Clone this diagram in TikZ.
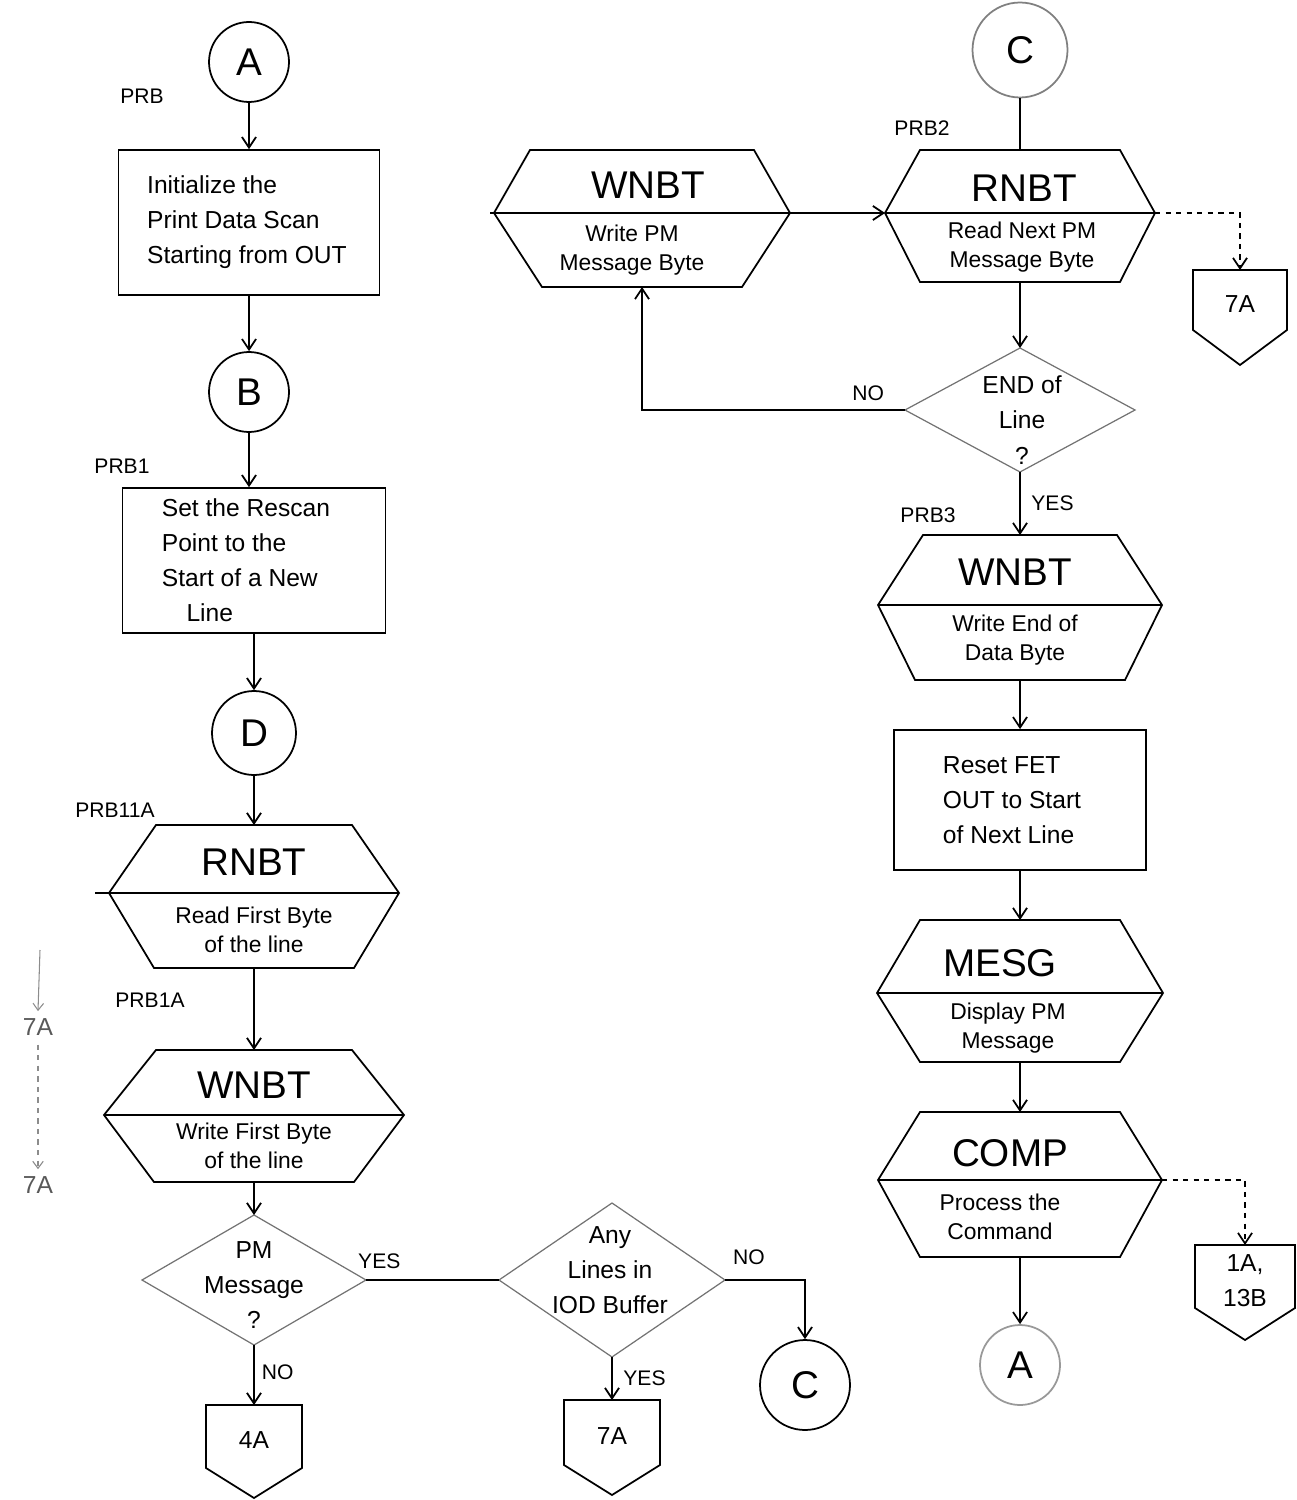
\documentclass[tikz,border=0pt]{standalone}
\usepackage{fontspec}
\setmainfont{Liberation Sans}
\usetikzlibrary{arrows.meta}
\newcommand\hexa[8]{%
 \draw[ln] ({#2-#6},#3) -- ({#2+#6},#3) -- ({#2+#7},#4) -- ({#2+#8},#5) -- ({#2-#8},#5) -- ({#2-#7},#4) -- cycle;
 \draw[ln] ({#2-#7},#4) -- ({#2+#7},#4);
 \coordinate (#1-t) at (#2,#3); \coordinate (#1-b) at (#2,#5);
 \coordinate (#1-l) at ({#2-#7},#4); \coordinate (#1-r) at ({#2+#7},#4);}
\newcommand\offpg[7]{%
 \draw[ln] ({#2-#3},#4) -- ({#2+#3},#4) -- ({#2+#3},#5) -- (#2,#6) -- ({#2-#3},#5) -- cycle;
 \coordinate (#1-t) at (#2,#4);
 \node[txt] (#1) at (#2,{(#4+#5)/2+4}) {#7};}
\newcommand\diam[5]{%
 \draw[dln] (#2,{#3-#5}) -- ({#2+#4},#3) -- (#2,{#3+#5}) -- ({#2-#4},#3) -- cycle;
 \coordinate (#1-t) at (#2,{#3-#5}); \coordinate (#1-b) at (#2,{#3+#5});
 \coordinate (#1-l) at ({#2-#4},#3); \coordinate (#1-r) at ({#2+#4},#3);}
\begin{document}
\begin{tikzpicture}[x=0.02cm,y=-0.02cm,
  ln/.style={line width=1pt},
  dln/.style={line width=0.7pt, draw=black!55},
  arr/.style={ln,-{Straight Barb[length=6pt,width=8pt]}},
  big/.style={font=\fontsize{22}{24}\selectfont},
  txt/.style={font=\fontsize{14}{20}\selectfont, align=center, inner sep=0pt},
  htxt/.style={font=\fontsize{13}{16.5}\selectfont, align=center, inner sep=0pt},
  ltxt/.style={font=\fontsize{14}{20}\selectfont, align=left, inner sep=0pt},
  lbl/.style={font=\fontsize{12}{14}\selectfont, inner sep=0pt},
  conn/.style={circle, draw, ln, inner sep=0pt, minimum size=1.6cm, font=\fontsize{22}{24}\selectfont},
  proc/.style={draw, ln, rectangle, inner sep=4pt},
  fringe/.style={line width=0.6pt, draw=black!45, -{Straight Barb[length=4pt,width=6pt]}}]
\useasboundingbox (0,0) rectangle (1296,1500);

% ---------- left column ----------
\node[conn] (cA) at (249,62) {A};
\node[lbl] (lPRB) at (142,96) {PRB};
\node[proc, minimum width=5.22cm, minimum height=2.9cm] (box1) at (249,222.5) {};
\node[ltxt] (t1) at (247,222) {Initialize the\\Print Data Scan\\Starting from OUT};
\draw[arr] (cA) -- (box1.north);

\node[conn] (cB) at (249,392) {B};
\draw[arr] (box1.south) -- (cB);

\node[lbl] (lPRB1) at (122,466) {PRB1};
\node[proc, minimum width=5.26cm, minimum height=2.9cm] (box2) at (254,560.5) {};
\node[ltxt] (t2) at (246,560) {Set the Rescan\\Point to the\\Start of a New\\\quad Line};
\draw[arr] (cB) -- (cB |- box2.north);

\node[conn, minimum size=1.68cm] (cD) at (254,733) {D};
\draw[arr] (box2.south) -- (cD);

\node[lbl] (lPRB11A) at (115,810) {PRB11A};
\hexa{rB}{254}{825}{893}{968}{98}{145}{100}
\draw[ln] (95,893) -- (rB-l);
\node[big] (rBn) at (254,862) {RNBT};
\node[htxt] (rBd) at (254,930) {Read First Byte\\of the line};
\draw[arr] (cD) -- (rB-t);

\node[lbl] (lPRB1A) at (150,1000) {PRB1A};
\hexa{wC}{254}{1050}{1115}{1182}{98}{150}{100}
\node[big] (wCn) at (254,1085) {WNBT};
\node[htxt] (wCd) at (254,1146) {Write First Byte\\of the line};
\draw[arr] (rB-b) -- (wC-t);

% fringe of adjacent sheet
\node[txt, text=black!65] (f7a1) at (38,1027) {7A};
\node[txt, text=black!65] (f7a2) at (38,1185) {7A};
\coordinate (fin) at (40,950);
\draw[fringe] (fin) -- ([yshift=4pt]f7a1.north);
\draw[fringe, dashed] ([yshift=-5pt]f7a1.south) -- ([yshift=4pt]f7a2.north);

% PM message decision
\diam{pm}{254}{1280}{112}{65}
\node[txt] (pmt) at (254,1285) {PM\\Message\\?};
\draw[arr] (wC-b) -- (pm-t);
\offpg{o4A}{254}{48}{1405}{1468}{1498}{4A}
\draw[arr] (pm-b) -- (o4A-t) node[pos=0.45, right=4pt, lbl] (nNo1) {NO};

% Any lines decision
\diam{any}{612}{1280}{113}{77}
\node[txt] (anyt) at (610,1270) {Any\\Lines in\\IOD Buffer};
\draw[ln] (pm-r) -- (any-l) node[pos=0.1, above=6pt, lbl] (nYes1) {YES};
\node[conn, minimum size=1.8cm] (cC2) at (805,1385) {C};
\draw[arr] (any-r) -| (cC2) node[pos=0.15, above=8pt, lbl] (nNo2) {NO};
\offpg{o7A2}{612}{48}{1400}{1465}{1495}{7A}
\draw[arr] (any-b) -- (o7A2-t) node[pos=0.5, right=6pt, lbl] (nYes2) {YES};

% ---------- right column ----------
\node[conn, minimum size=1.9cm, draw=black!50] (cC1) at (1020,50) {C};
\node[lbl] (lPRB2) at (922,128) {PRB2};

\hexa{wA}{642}{150}{213}{287}{112}{148}{100}
\draw[ln] (490,213) -- (wA-l);
\node[big] (wAn) at (648,185) {WNBT};
\node[htxt] (wAd) at (632,250) {Write PM\\Message Byte};

\hexa{rA}{1020}{150}{213}{282}{100}{135}{100}
\node[big] (rAn) at (1024,188) {RNBT};
\node[htxt] (rAd) at (1022,247) {Read Next PM\\Message Byte};
\draw[ln] (cC1) -- (rA-t);
\draw[arr] (wA-r) -- (rA-l);

\offpg{o7A1}{1240}{47}{270}{330}{365}{7A}
\draw[ln, dashed, -{Straight Barb[length=6pt,width=8pt]}] (rA-r) -| (o7A1-t);

\diam{eol}{1020}{410}{115}{62}
\node[txt] (eolt) at (1022,420) {END of\\Line\\?};
\draw[arr] (rA-b) -- (eol-t);
\draw[arr] (eol-l) -| (wA-b) node[pos=0.07, above=5pt, lbl] (nNo3) {NO};

\node[lbl] (lPRB3) at (928,515) {PRB3};
\hexa{wB}{1020}{535}{605}{680}{97}{142}{105}
\node[big] (wBn) at (1015,572) {WNBT};
\node[htxt] (wBd) at (1015,640) {Write End of\\Data Byte};
\draw[arr] (eol-b) -- (wB-t) node[pos=0.5, right=6pt, lbl] (nYes3) {YES};

\node[proc, minimum width=5.04cm, minimum height=2.8cm] (box3) at (1020,800) {};
\node[ltxt] (t3) at (1012,800) {Reset FET\\OUT to Start\\of Next Line};
\draw[arr] (wB-b) -- (box3.north);

\hexa{mS}{1020}{920}{993}{1062}{100}{143}{100}
\node[big] (mSn) at (1000,963) {MESG};
\node[htxt] (mSd) at (1008,1028) {Display PM\\Message};
\draw[arr] (box3.south) -- (mS-t);

\hexa{cP}{1020}{1112}{1180}{1257}{100}{142}{100}
\node[big] (cPn) at (1010,1153) {COMP};
\node[htxt] (cPd) at (1000,1217) {Process the\\Command};
\draw[arr] (mS-b) -- (cP-t);

\offpg{o1A}{1245}{50}{1245}{1308}{1340}{1A,\\13B}
\draw[ln, dashed, -{Straight Barb[length=6pt,width=8pt]}] (cP-r) -| (o1A-t);

\node[conn, draw=black!40] (cA2) at (1020,1365) {A};
\draw[arr] (cP-b) -- (cA2);
\end{tikzpicture}
\end{document}
